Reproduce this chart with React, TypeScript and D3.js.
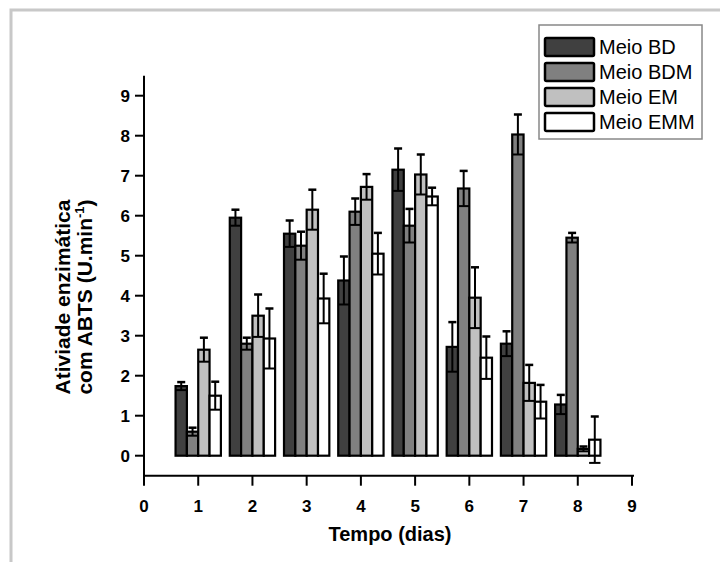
import React from "react";
import * as d3 from "d3";

const days = [1, 2, 3, 4, 5, 6, 7, 8];
const seriesNames = ["Meio BD", "Meio BDM", "Meio EM", "Meio EMM"];
const BD = [1.74, 5.95, 5.55, 4.38, 7.15, 2.72, 2.8, 1.28];
const BD_err = [0.1, 0.2, 0.33, 0.6, 0.53, 0.62, 0.31, 0.24];
const BDM = [0.6, 2.8, 5.25, 6.1, 5.75, 6.68, 8.03, 5.45];
const BDM_err = [0.1, 0.15, 0.35, 0.33, 0.42, 0.44, 0.5, 0.12];
const EM = [2.65, 3.5, 6.15, 6.72, 7.03, 3.95, 1.82, 0.17];
const EM_err = [0.3, 0.53, 0.5, 0.32, 0.5, 0.76, 0.45, 0.06];
const EMM = [1.5, 2.93, 3.93, 5.05, 6.48, 2.45, 1.35, 0.4];
const EMM_err = [0.35, 0.75, 0.62, 0.52, 0.22, 0.53, 0.42, 0.58];
const xTicks = [0, 1, 2, 3, 4, 5, 6, 7, 8, 9];
const yTicks = [0, 1, 2, 3, 4, 5, 6, 7, 8, 9];
const colors = ["#404040", "#808080", "#c0c0c0", "#ffffff"];

const values = [BD, BDM, EM, EMM];
const errors = [BD_err, BDM_err, EM_err, EMM_err];

export default function App() {
  const x = d3.scaleLinear().domain([0, 9]).range([144, 632]);
  const y = d3.scaleLinear().domain([-0.5, 9.5]).range([475.7, 75.7]);
  const barW = 0.209;
  const font = "'Liberation Sans', Arial, sans-serif";
  const bw = x(barW) - x(0);

  return (
    <svg width={720} height={562} style={{ position: "absolute", left: 0, top: 0 }} fontFamily={font}>
      <rect x={0} y={0} width={720} height={562} fill="#fff" />
      <rect x={11} y={10} width={800} height={800} fill="none" stroke="#c8c8c8" strokeWidth={3} />

      {/* bars */}
      {values.map((vals, si) =>
        vals.map((v, i) => {
          const x0 = x(days[i] + (si - 2) * barW);
          return (
            <rect key={`b${si}-${i}`} x={x0} y={y(v)} width={bw} height={y(0) - y(v)}
              fill={colors[si]} stroke="#000" strokeWidth={2.2} />
          );
        })
      )}
      {/* error bars */}
      {values.map((vals, si) =>
        vals.map((v, i) => {
          const e = errors[si][i];
          const cx = x(days[i] + (si - 1.5) * barW);
          const yt = y(v + e);
          const yb = y(v - e);
          return (
            <g key={`e${si}-${i}`} stroke="#000" strokeWidth={2}>
              <line x1={cx} x2={cx} y1={yt} y2={yb} />
              <line x1={cx - 4} x2={cx + 4} y1={yt} y2={yt} strokeWidth={2.5} />
              <line x1={cx - bw / 2} x2={cx + bw / 2} y1={yb} y2={yb} />
            </g>
          );
        })
      )}

      {/* axes */}
      <line x1={x(0)} x2={x(0)} y1={y(9.5)} y2={y(-0.5)} stroke="#000" strokeWidth={2} />
      <line x1={x(0) - 1} x2={x(9) + 2} y1={y(-0.5)} y2={y(-0.5)} stroke="#000" strokeWidth={2} />
      {yTicks.map((t) => (
        <g key={`yt${t}`}>
          <line x1={x(0) - 9} x2={x(0)} y1={y(t)} y2={y(t)} stroke="#000" strokeWidth={2} />
          <text x={x(0) - 14} y={y(t)} dy="0.36em" textAnchor="end" fontSize={17} fontWeight="bold">{t}</text>
        </g>
      ))}
      {xTicks.map((t) => (
        <g key={`xt${t}`}>
          <line x1={x(t)} x2={x(t)} y1={y(-0.5)} y2={y(-0.5) + 10} stroke="#000" strokeWidth={2} />
          <text x={x(t)} y={506} dy="0.36em" textAnchor="middle" fontSize={17} fontWeight="bold">{t}</text>
        </g>
      ))}
      <text x={390} y={534} dy="0.36em" textAnchor="middle" fontSize={20} fontWeight="bold">Tempo (dias)</text>
      <g transform="translate(62,297) rotate(-90)">
        <text x={0} y={0} dy="0.36em" textAnchor="middle" fontSize={21} fontWeight="bold">Ativiade enzimática</text>
      </g>
      <g transform="translate(84,297) rotate(-90)">
        <text x={0} y={0} dy="0.36em" textAnchor="middle" fontSize={21} fontWeight="bold">
          com ABTS (U.min<tspan fontSize={13} dy="-0.6em">-1</tspan><tspan dy="0.42em">)</tspan>
        </text>
      </g>

      {/* legend */}
      <rect x={539} y={25} width={163} height={114} fill="#fff" stroke="#888" strokeWidth={1.5} />
      {seriesNames.map((n, si) => (
        <g key={`l${si}`}>
          <rect x={545} y={38 + si * 25} width={49} height={18} rx={1.5} fill={colors[si]} stroke="#000" strokeWidth={2.5} />
          <text x={599} y={47 + si * 25} dy="0.36em" fontSize={20}>{n}</text>
        </g>
      ))}
    </svg>
  );
}
